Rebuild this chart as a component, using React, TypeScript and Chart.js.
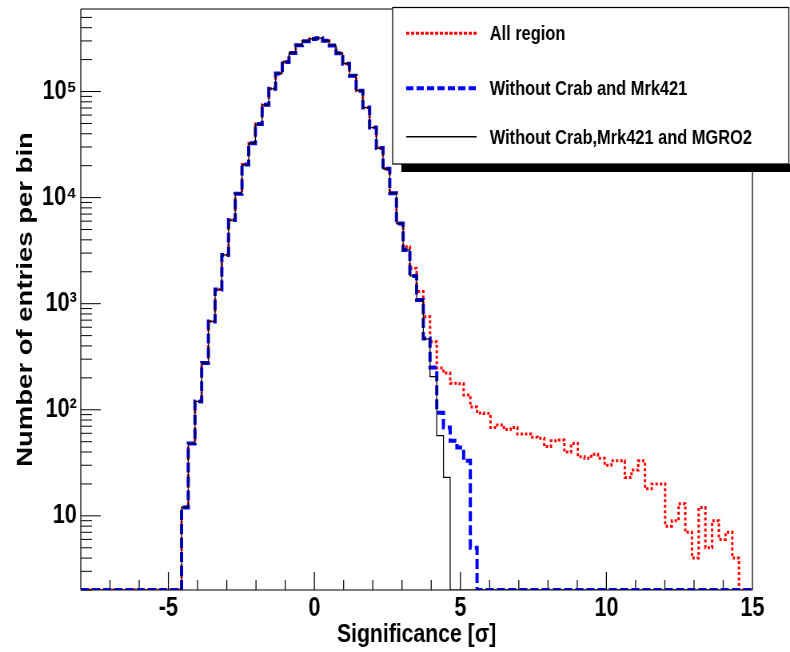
import React, { useEffect, useRef } from 'react';
import { Chart, registerables } from 'chart.js';

Chart.register(...registerables);

// ---------------- data ----------------
// Histogram binning: 100 bins from -8 to 15 (width 0.23)
const BIN_START = -8;
const BIN_WIDTH = 0.23;

const seriesLabels = ['All region', 'Without Crab and Mrk421', 'Without Crab,Mrk421 and MGRO2'];

const allRegion = [
  0, 0, 0, 0, 0, 0, 0, 0, 0, 0,
  0, 0, 0, 0, 0, 12, 48, 120, 276, 680,
  1360, 2880, 6150, 10900, 20500, 32500, 49400, 75000, 106000, 148000,
  190000, 231000, 273000, 298000, 313000, 318000, 302000, 272000, 230000, 183000,
  141000, 102000, 70600, 45700, 29300, 18700, 11000, 5700, 3450, 2160,
  1300, 753, 438, 248, 222, 178, 176, 138, 106, 93,
  92, 68, 72, 65, 68, 59, 59, 55, 54, 45,
  51, 52, 40, 48, 36, 35, 38, 35, 30, 33,
  33, 23, 27, 33, 18, 20, 20, 8, 9, 13,
  7, 4, 12, 5, 9, 6, 7, 4, 0, 0,
];

const withoutCrabMrk421 = [
  0, 0, 0, 0, 0, 0, 0, 0, 0, 0,
  0, 0, 0, 0, 0, 12, 48, 120, 276, 680,
  1360, 2880, 6150, 10900, 20500, 32500, 49400, 75000, 106000, 148000,
  190000, 231000, 273000, 298000, 313000, 318000, 302000, 272000, 230000, 183000,
  141000, 102000, 70600, 45700, 29300, 18700, 11000, 5700, 3210, 1825,
  1085, 470, 250, 94, 68, 51, 44, 33, 5, 0,
  0, 0, 0, 0, 0, 0, 0, 0, 0, 0,
  0, 0, 0, 0, 0, 0, 0, 0, 0, 0,
  0, 0, 0, 0, 0, 0, 0, 0, 0, 0,
  0, 0, 0, 0, 0, 0, 0, 0, 0, 0,
];

const withoutCrabMrk421MGRO2 = [
  0, 0, 0, 0, 0, 0, 0, 0, 0, 0,
  0, 0, 0, 0, 0, 12, 48, 120, 276, 680,
  1360, 2880, 6150, 10900, 20500, 32500, 49400, 75000, 106000, 148000,
  190000, 231000, 273000, 298000, 313000, 318000, 302000, 272000, 230000, 183000,
  141000, 102000, 70600, 45700, 29300, 18700, 11000, 5700, 3210, 1825,
  1085, 465, 205, 57, 23, 0, 0, 0, 0, 0,
  0, 0, 0, 0, 0, 0, 0, 0, 0, 0,
  0, 0, 0, 0, 0, 0, 0, 0, 0, 0,
  0, 0, 0, 0, 0, 0, 0, 0, 0, 0,
  0, 0, 0, 0, 0, 0, 0, 0, 0, 0,
];

const xTickValues = [-5, 0, 5, 10, 15];
const yLabelValues = [10, 100, 1000, 10000, 100000];
const yLabelTexts = ['10', '10\u00B2', '10\u00B3', '10\u2074', '10\u2075'];
const yTickValues = [
  2, 3, 4, 5, 6, 7, 8, 9,
  10, 20, 30, 40, 50, 60, 70, 80, 90,
  100, 200, 300, 400, 500, 600, 700, 800, 900,
  1000, 2000, 3000, 4000, 5000, 6000, 7000, 8000, 9000,
  10000, 20000, 30000, 40000, 50000, 60000, 70000, 80000, 90000,
  100000, 200000, 300000, 400000, 500000,
];

const X_MIN = -8;
const X_MAX = 15;
const Y_MIN = 2;
const Y_MAX = 6e5;

// ---------------- layout ----------------
// The reference is horizontally compressed (~0.8); render wider and squeeze.
const W = 988;
const H = 652;
const FONT = "'Liberation Sans', Arial, Helvetica, sans-serif";

function toSteps(values: number[]) {
  const pts = values.map((v, k) => ({ x: BIN_START + k * BIN_WIDTH, y: v > 0 ? v : Y_MIN }));
  const last = values[values.length - 1];
  pts.push({ x: BIN_START + values.length * BIN_WIDTH, y: last > 0 ? last : Y_MIN });
  return pts;
}

const rootPlugin = {
  id: 'rootStyle',
  beforeDatasetsDraw(chart: any) {
    const { ctx, chartArea: a, scales } = chart;
    const xs = scales.x;
    const ys = scales.y;
    ctx.save();
    ctx.strokeStyle = '#000';
    // y ticks (inside)
    ctx.lineWidth = 1;
    for (const v of yTickValues) {
      const py = ys.getPixelForValue(v);
      const major = yLabelValues.includes(v);
      const len = major ? 25 : 14;
      ctx.beginPath();
      ctx.moveTo(a.left, py);
      ctx.lineTo(a.left + len, py);
      ctx.stroke();
    }
    // x ticks (inside)
    ctx.lineWidth = 1.25;
    for (let v = Math.ceil(X_MIN) + 1; v < X_MAX; v++) {
      const px = xs.getPixelForValue(v);
      const len = v % 5 === 0 ? 18 : 10;
      ctx.beginPath();
      ctx.moveTo(px, a.bottom);
      ctx.lineTo(px, a.bottom - len);
      ctx.stroke();
    }
    // frame
    ctx.lineWidth = 1;
    ctx.beginPath();
    ctx.moveTo(a.left, a.top);
    ctx.lineTo(a.right, a.top);
    ctx.moveTo(a.left, a.bottom);
    ctx.lineTo(a.right, a.bottom);
    ctx.stroke();
    ctx.lineWidth = 1.25;
    ctx.beginPath();
    ctx.moveTo(a.left, a.top);
    ctx.lineTo(a.left, a.bottom);
    ctx.moveTo(a.right, a.top);
    ctx.lineTo(a.right, a.bottom);
    ctx.stroke();
    ctx.restore();
  },
  afterDraw(chart: any) {
    const { ctx } = chart;
    const ds = chart.data.datasets;
    ctx.save();
    // legend box with shadow
    ctx.fillStyle = '#000';
    ctx.fillRect(502, 164, W - 502, 8);
    ctx.fillStyle = '#fff';
    ctx.fillRect(491, 7.5, 495.5, 156.5);
    ctx.strokeStyle = '#000';
    ctx.lineWidth = 1.25;
    ctx.strokeRect(491, 7.5, 495.5, 156.5);
    const rowsY = [33.3, 88.3, 136.7];
    const baseY = [39.8, 95.3, 144.3];
    ds.forEach((d: any, i: number) => {
      ctx.save();
      ctx.strokeStyle = d.borderColor;
      ctx.lineWidth = i === 2 ? 1.5 : d.borderWidth;
      ctx.setLineDash(i === 0 ? [4, 2] : i === 1 ? [9, 4] : []);
      ctx.beginPath();
      ctx.moveTo(508, rowsY[i]);
      ctx.lineTo(596, rowsY[i]);
      ctx.stroke();
      ctx.restore();
      ctx.fillStyle = '#000';
      ctx.font = `bold 20.5px ${FONT}`;
      ctx.textAlign = 'left';
      ctx.textBaseline = 'alphabetic';
      ctx.fillText(d.label, 612.5, baseY[i]);
    });
    ctx.restore();
  },
};

export default function App() {
  const ref = useRef<HTMLCanvasElement>(null);
  useEffect(() => {
    if (!ref.current) return;
    Chart.defaults.font.family = FONT;
    Chart.defaults.color = '#000';
    const tickFont = { family: FONT, size: 27, weight: 'bold' as const };
    const xTitleFont = { family: FONT, size: 26.5, weight: 'bold' as const };
    const yTitleFont = { family: FONT, size: 27.5, weight: 'bold' as const };
    const chart = new Chart(ref.current, {
      type: 'line',
      data: {
        datasets: [
          {
            label: seriesLabels[0],
            data: toSteps(allRegion),
            borderColor: '#ff0000',
            borderWidth: 3,
            borderDash: [3, 2.5],
            stepped: true,
            pointRadius: 0,
            fill: false,
            order: 3,
          },
          {
            label: seriesLabels[1],
            data: toSteps(withoutCrabMrk421),
            borderColor: '#0000ff',
            borderWidth: 4,
            borderDash: [10, 4],
            stepped: true,
            pointRadius: 0,
            fill: false,
            order: 2,
          },
          {
            label: seriesLabels[2],
            data: toSteps(withoutCrabMrk421MGRO2),
            borderColor: '#000000',
            borderWidth: 1.25,
            stepped: true,
            pointRadius: 0,
            fill: false,
            order: 1,
          },
        ],
      },
      options: {
        animation: false,
        responsive: false,
        maintainAspectRatio: false,
        devicePixelRatio: 1,
        events: [],
        layout: { padding: { left: 0, top: 9, right: W - 941, bottom: 0 } },
        plugins: {
          legend: { display: false },
          tooltip: { enabled: false },
          title: { display: false },
        },
        scales: {
          x: {
            type: 'linear',
            min: X_MIN,
            max: X_MAX,
            grid: { display: false, drawTicks: false },
            border: { display: false },
            afterBuildTicks: (s: any) => {
              s.ticks = xTickValues.map((v) => ({ value: v }));
            },
            ticks: {
              padding: 2,
              font: tickFont,
              color: '#000',
              maxRotation: 0,
              autoSkip: false,
              callback: (v: any) => String(v),
            },
            title: {
              display: true,
              text: 'Significance [\u03C3]',
              font: xTitleFont,
              color: '#000',
              padding: { top: 0, bottom: 1.5 },
            },
            afterFit: (s: any) => {
              s.height = H - 590;
              s.paddingLeft = 0;
              s.paddingRight = 0;
            },
          },
          y: {
            type: 'logarithmic',
            min: Y_MIN,
            max: Y_MAX,
            grid: { display: false, drawTicks: false },
            border: { display: false },
            afterBuildTicks: (s: any) => {
              s.ticks = yTickValues.map((v) => ({ value: v }));
            },
            ticks: {
              padding: 5,
              font: tickFont,
              color: '#000',
              autoSkip: false,
              callback: (v: any) => {
                const i = yLabelValues.indexOf(Number(v));
                return i >= 0 ? yLabelTexts[i] : '';
              },
            },
            title: {
              display: true,
              text: 'Number of entries per bin',
              font: yTitleFont,
              color: '#000',
              padding: { top: 16, bottom: 0 },
            },
            afterFit: (s: any) => {
              s.width = 101;
              s.paddingTop = 0;
              s.paddingBottom = 0;
            },
          },
        },
      } as any,
      plugins: [rootPlugin],
    });
    return () => chart.destroy();
  }, []);

  return (
    <div
      style={{
        position: 'fixed',
        left: 0,
        top: 0,
        width: 790,
        height: 652,
        overflow: 'hidden',
        background: '#fff',
      }}
    >
      <canvas
        ref={ref}
        width={W}
        height={H}
        style={{ width: '790px', height: '652px', display: 'block' }}
      />
    </div>
  );
}
